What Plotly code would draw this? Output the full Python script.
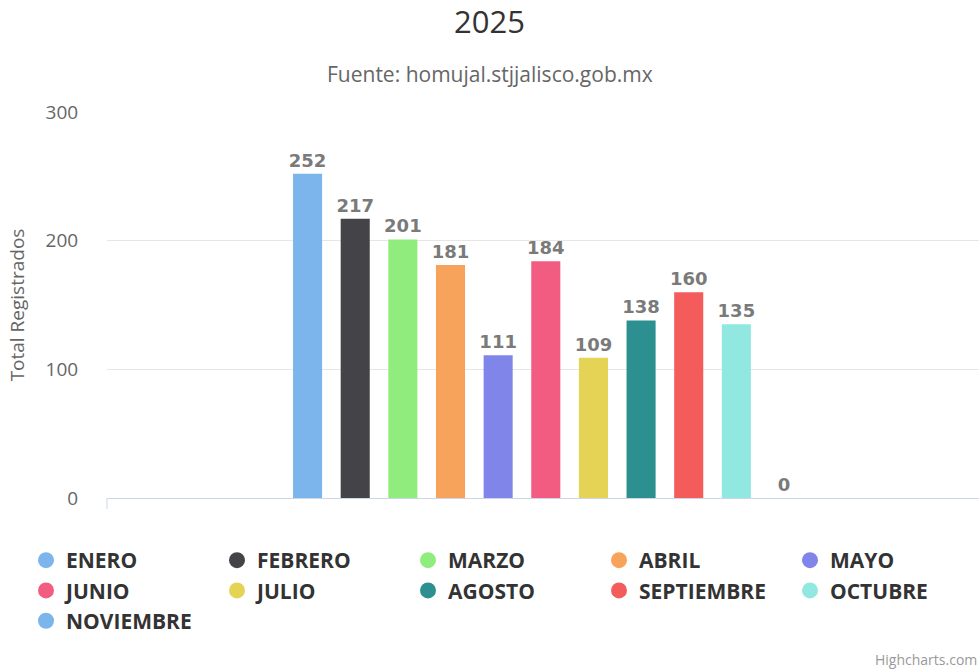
import plotly.graph_objects as go

# ---- data ----
months = ["ENERO", "FEBRERO", "MARZO", "ABRIL", "MAYO", "JUNIO", "JULIO",
          "AGOSTO", "SEPTIEMBRE", "OCTUBRE", "NOVIEMBRE"]
values = [252, 217, 201, 181, 111, 184, 109, 138, 160, 135, 0]
colors = ["#7cb5ec", "#434348", "#90ed7d", "#f7a35c", "#8085e9", "#f15c80",
          "#e4d354", "#2b908f", "#f45b5b", "#91e8e1", "#7cb5ec"]
y_ticks = [0, 100, 200, 300]
title_text = "2025"
subtitle_text = "Fuente: homujal.stjjalisco.gob.mx"
y_title = "Total Registrados"

W, H = 979, 669
ML, MR, MT, MB = 107, 0, 112, 171
PW, PH = W - ML - MR, H - MT - MB
FONT = "Open Sans"

fig = go.Figure()
for m, v, c in zip(months, values, colors):
    fig.add_trace(go.Bar(
        x=[0], y=[v], name=m, marker=dict(color=c, line=dict(width=0)),
        text=[str(v)], textposition="outside", cliponaxis=False,
        constraintext="none",
        textfont=dict(family="DejaVu Sans", size=18, color="#7a7a7a", weight="bold"),
        legendgroup=m, showlegend=False,
    ))
for m, c in zip(months, colors):
    fig.add_trace(go.Scatter(
        x=[None], y=[None], mode="markers", name=m, legendgroup=m,
        marker=dict(symbol="circle", size=16, color=c),
    ))

fig.update_layout(
    width=W, height=H,
    margin=dict(l=ML, r=MR, t=MT, b=MB, autoexpand=False),
    paper_bgcolor="white", plot_bgcolor="white",
    font=dict(family=FONT, color="#666666"),
    barmode="group", bargap=0.399, bargroupgap=0.39,
    title=dict(text=title_text, x=0.5, xref="container", xanchor="center",
               y=1 - 22 / H, yref="container", yanchor="middle",
               font=dict(family=FONT, size=31, color="#333333")),
    xaxis=dict(range=[-0.5032, 0.4968], showticklabels=False, ticks="",
               showgrid=False, zeroline=False, showline=True,
               linecolor="#ccd6eb", linewidth=1, fixedrange=True),
    yaxis=dict(range=[0, 300], tickvals=y_ticks, showgrid=True,
               gridcolor="#e6e6e6", gridwidth=1, zeroline=False,
               ticks="outside", ticklen=24, tickcolor="rgba(0,0,0,0)",
               tickfont=dict(family=FONT, size=19, color="#666666"),
               title=dict(text=y_title, standoff=15,
                          font=dict(family=FONT, size=19, color="#666666"))),
    legend=dict(orientation="h", xref="paper", yref="paper",
                x=(26 - ML) / PW, y=-(540 - (H - MB)) / PH,
                xanchor="left", yanchor="top",
                entrywidth=146, entrywidthmode="pixels", tracegroupgap=0,
                font=dict(family=FONT, size=21, color="#333333", weight="bold")),
    showlegend=True,
)

fig.add_annotation(text=subtitle_text, xref="paper", yref="paper",
                   x=(W / 2 - ML) / PW, y=1 + (MT - 74) / PH,
                   xanchor="center", yanchor="middle", showarrow=False,
                   font=dict(family=FONT, size=21, color="#666666"))
fig.add_annotation(text="Highcharts.com", xref="paper", yref="paper",
                   x=1, y=-(659 - (H - MB)) / PH,
                   xanchor="right", yanchor="middle", showarrow=False,
                   font=dict(family=FONT, size=14, color="#999999"))
# x-axis tick mark at the category boundary
fig.add_shape(type="line", xref="paper", yref="paper", x0=0, x1=0,
              y0=0, y1=-11 / PH, line=dict(color="#ccd6eb", width=1))

fig.write_html("out.html", config={"displayModeBar": False},
               post_script="document.body.style.margin='0';document.body.style.overflow='hidden';")
